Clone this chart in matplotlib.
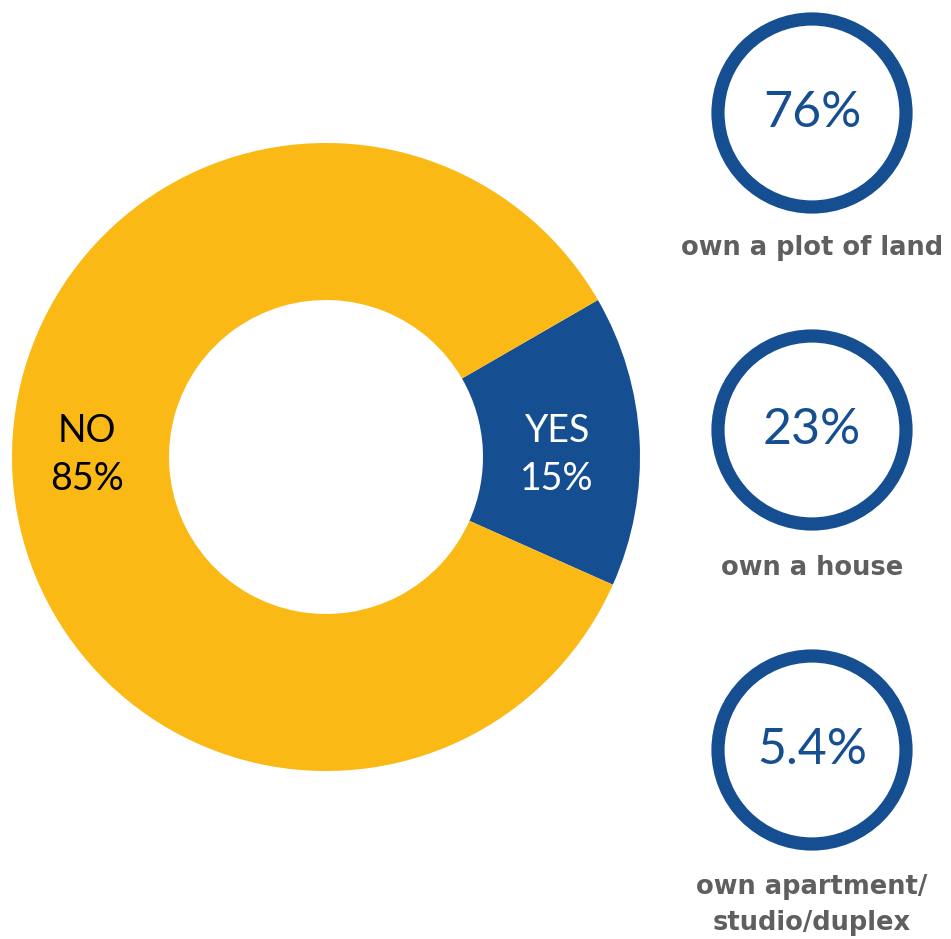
import math
import matplotlib.pyplot as plt
from matplotlib.patches import Circle

W, H = 951, 939  # canvas in pixels (dpi 100)

# survey answers for the donut
answer_labels = ['YES', 'NO']
answer_shares = [15, 85]
answer_colors = ['#154f91', '#fab915']
answer_text_colors = ['white', 'black']

# what the owners own
asset_values = [76, 23, 5.4]
asset_labels = ['own a plot of land', 'own a house', 'own apartment/\nstudio/duplex']

BLUE = '#154f91'
GREY = '#5f5f5f'


def img_y(y):
    # top-down pixel row -> axes y
    return H - y


fig = plt.figure(figsize=(W / 100, H / 100), dpi=100, facecolor='white')
ax = fig.add_axes([0, 0, 1, 1])

# donut
cx, cy = 326, img_y(457)
r_out, ring = 314, 157
wedges, _ = ax.pie(answer_shares, colors=answer_colors, startangle=-24,
                   counterclock=True, center=(cx, cy), radius=r_out,
                   wedgeprops=dict(width=ring, linewidth=0), frame=True)

for w, lab, share, tc in zip(wedges, answer_labels, answer_shares, answer_text_colors):
    mid = math.radians((w.theta1 + w.theta2) / 2)
    rr = r_out - ring / 2
    tx = cx + rr * math.cos(mid)
    ax.text(tx - 4, img_y(455), f'{lab}\n{share}%', ha='center', va='center',
            fontsize=27, color=tc, family='Lato', linespacing=1.4)

# rings on the right
ring_x = 812
ring_ys = [113, 430, 750]
label_ys = [248, 568, 905]
for v, lab, ry, ly in zip(asset_values, asset_labels, ring_ys, label_ys):
    ax.add_patch(Circle((ring_x, img_y(ry)), 94, fill=False, ec=BLUE, lw=9.5))
    ax.text(ring_x, img_y(ry), f'{v:g}%', ha='center', va='center',
            fontsize=36, color=BLUE, family='Lato')
    ax.text(ring_x, img_y(ly), lab, ha='center', va='center', fontsize=18.5,
            color=GREY, family='DejaVu Sans', fontweight='bold', linespacing=1.5)

ax.set_xlim(0, W)
ax.set_ylim(0, H)
ax.set_aspect('equal')
ax.axis('off')

fig.savefig('out.png', dpi=100, facecolor='white')
